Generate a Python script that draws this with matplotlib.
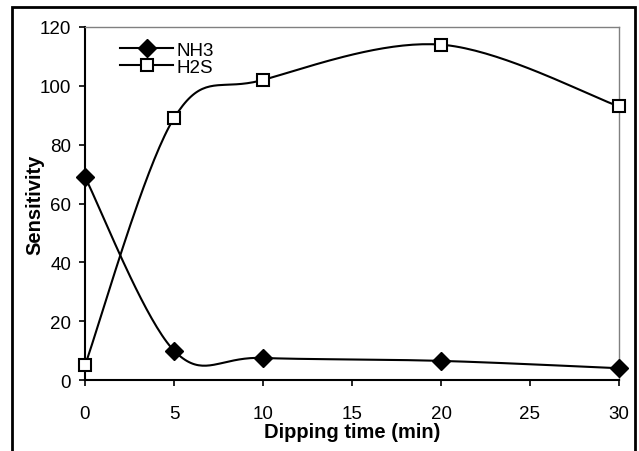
import matplotlib

matplotlib.use("Agg")
import matplotlib.patches as patches
import matplotlib.pyplot as plt
import numpy as np

# Data
dip_time = [0, 5, 10, 20, 30]
nh3 = [69, 10, 7.5, 6.5, 4]
h2s = [5, 89, 102, 114, 93]


def smooth(xs, ys, n=40):
    # Excel-style smoothed line: cubic Bezier through points, Catmull-Rom tangents
    pts = np.column_stack([xs, ys]).astype(float)
    out = [pts[0]]
    t = np.linspace(0, 1, n)[1:, None]
    for i in range(len(pts) - 1):
        p0 = pts[max(i - 1, 0)]
        p1 = pts[i]
        p2 = pts[i + 1]
        p3 = pts[min(i + 2, len(pts) - 1)]
        c1 = p1 + (p2 - p0) / 6
        c2 = p2 - (p3 - p1) / 6
        seg = ((1 - t) ** 3) * p1 + 3 * ((1 - t) ** 2) * t * c1 + 3 * (1 - t) * t ** 2 * c2 + t ** 3 * p2
        out.extend(seg)
    out = np.array(out)
    return out[:, 0], out[:, 1]


plt.rcParams.update({"font.family": ["Liberation Sans", "DejaVu Sans"], "font.size": 13})

fig = plt.figure(figsize=(6.39, 4.52), dpi=100)
ax = fig.add_axes([85 / 639, 1 - 381 / 452, 534 / 639, 353 / 452])

# outer chart border
fig.patches.append(patches.Rectangle((12 / 639, -0.01), 623 / 639, 1 - 8 / 452 + 0.01,
                                     transform=fig.transFigure, fill=False,
                                     edgecolor="black", linewidth=2))

sx, sy = smooth(dip_time, nh3)
ax.plot(sx, sy, color="black", lw=1.5, zorder=2)
ax.plot(dip_time, nh3, ls="none", marker="D", ms=9.5, color="black", zorder=3, clip_on=False)
sx, sy = smooth(dip_time, h2s)
ax.plot(sx, sy, color="black", lw=1.5, zorder=2)
ax.plot(dip_time, h2s, ls="none", marker="s", ms=9, mfc="white", mec="black", mew=1.5,
        zorder=3, clip_on=False)

# legend handles
ax.plot([], [], color="black", lw=1.5, marker="D", ms=9.5, label="NH3")
ax.plot([], [], color="black", lw=1.5, marker="s", ms=9, mfc="white", mec="black", mew=1.5,
        label="H2S")
handles, labels = ax.get_legend_handles_labels()
ax.legend(handles, labels, loc="upper left", bbox_to_anchor=(0.052, 0.98), frameon=False,
          handlelength=2.8, handletextpad=0.2, labelspacing=0.0, borderaxespad=0,
          fontsize=13.5)

ax.set_xlim(0, 30)
ax.set_ylim(0, 120)
ax.set_xticks(range(0, 31, 5))
ax.set_yticks(range(0, 121, 20))
ax.tick_params(direction="out", length=4, width=1.2, labelsize=13.5)
ax.tick_params(axis="x", pad=14)
ax.tick_params(axis="y", pad=6)

for side in ("top", "right"):
    ax.spines[side].set_color("#808080")
    ax.spines[side].set_linewidth(1.0)
for side in ("left", "bottom"):
    ax.spines[side].set_linewidth(1.5)

ax.set_xlabel("Dipping time (min)", fontsize=14.5, fontweight="bold", labelpad=0)
ax.set_ylabel("Sensitivity", fontsize=14.5, fontweight="bold", labelpad=-3)

fig.savefig("out.png", dpi=100, facecolor="white")
